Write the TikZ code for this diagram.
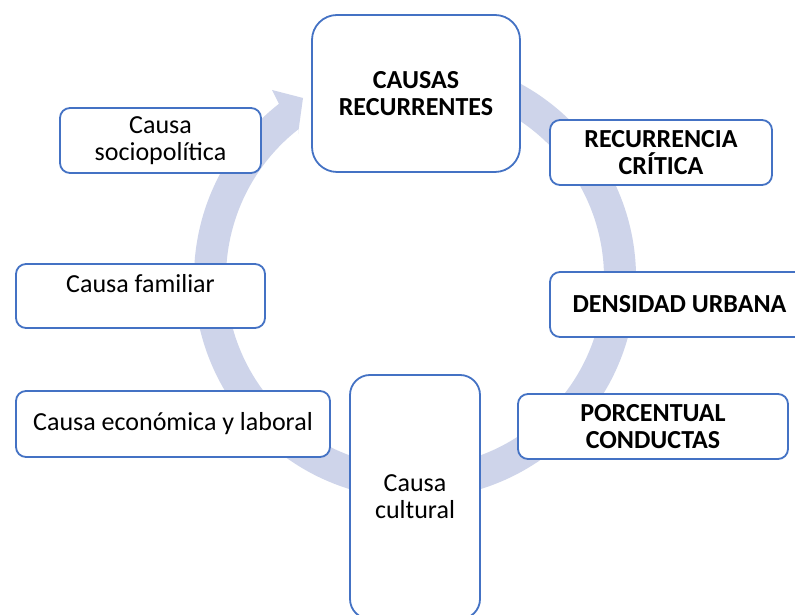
\documentclass[tikz,border=0pt]{standalone}
\usepackage{fontspec}
\setmainfont{Carlito}
\usetikzlibrary{calc}
\definecolor{boxblue}{RGB}{68,114,196}
\definecolor{ringcol}{RGB}{206,212,234}
\begin{document}
\begin{tikzpicture}[x=1pt,y=1pt,
  box/.style={draw=boxblue, line width=1.8pt, fill=white, rounded corners=10pt,
    align=center, inner sep=0pt, font=\fontsize{26}{27}\selectfont},
  boldbox/.style={box, font=\fontsize{26}{27}\selectfont\bfseries}]
\fill[white] (0,0) rectangle (795,615);
\useasboundingbox (0,0) rectangle (795,615);
\coordinate (C) at (415,337);
\coordinate (barbA) at (272,525);
\coordinate (tip) at (303,517);
\coordinate (barbB) at (298,481);
\fill[ringcol] ($(C)+(80:221)$) arc[start angle=80,end angle=-232,radius=221]
  -- (barbA) -- (tip) -- (barbB)
  -- ($(C)+(-232:189)$) arc[start angle=-232,end angle=80,radius=189] -- cycle;
\node[boldbox, minimum width=208pt, minimum height=157pt, rounded corners=25pt] (causas) at (416,521.5) {CAUSAS\\RECURRENTES};
\node[box, minimum width=201pt, minimum height=65pt] (socio) at (160.5,474.5) {Causa\\sociopolítica};
\node[box, minimum width=249pt, minimum height=64pt, text depth=26pt] (familiar) at (140.5,319) {Causa familiar};
\node[box, minimum width=314pt, minimum height=66pt] (econ) at (173,191) {Causa económica y laboral};
\node[box, minimum width=130pt, minimum height=244pt, rounded corners=20pt] (cultural) at (415,118) {Causa\\cultural};
\node[boldbox, minimum width=222pt, minimum height=65pt] (recur) at (661,462.5) {RECURRENCIA\\CRÍTICA};
\node[boldbox, minimum width=259pt, minimum height=65pt] (dens) at (679.5,310.5) {DENSIDAD URBANA};
\node[boldbox, minimum width=270pt, minimum height=65pt] (porc) at (653,188.5) {PORCENTUAL\\CONDUCTAS};
\end{tikzpicture}
\end{document}
